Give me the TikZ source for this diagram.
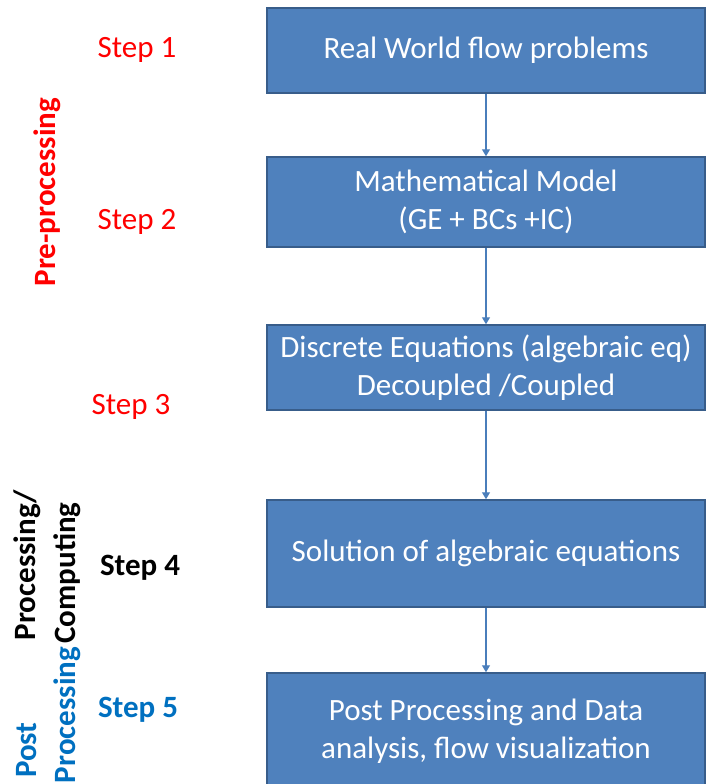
\documentclass[tikz,border=0pt]{standalone}
\usepackage{fontspec}
\setmainfont{Carlito}
\usetikzlibrary{arrows.meta,positioning}
\definecolor{boxblue}{RGB}{79,129,189}
\definecolor{boxedge}{RGB}{56,93,138}
\definecolor{arrowblue}{RGB}{74,126,187}
\definecolor{stepred}{RGB}{255,0,0}
\definecolor{stepblue}{RGB}{0,112,192}

\begin{document}
\begin{tikzpicture}[x=1pt,y=-1pt,
  every node/.style={font=\fontsize{31}{38}\selectfont},
  stepbox/.style={draw=boxedge,line width=1.5pt,fill=boxblue,text=white,align=center,minimum width=438pt},
  phase/.style={rotate=90,font=\fontsize{31}{38}\selectfont\bfseries,inner sep=0pt}]
  \clip (0,0) rectangle (707,784);

  \node[stepbox,minimum height=85pt] (b1) at (486,50.5) {Real World flow problems};
  \node[stepbox,minimum height=90pt,below=62.5pt of b1] (b2) {Mathematical Model\\(GE + BCs +IC)};
  \node[stepbox,minimum height=85pt,below=76.5pt of b2] (b3) {Discrete Equations (algebraic eq)\\Decoupled /Coupled};
  \node[stepbox,minimum height=107pt,below=88.5pt of b3] (b4) {Solution of algebraic equations};
  \node[stepbox,minimum height=116pt,below=64.5pt of b4] (b5) {Post Processing and Data\\analysis, flow visualization};

  \foreach \a/\b in {b1/b2,b2/b3,b3/b4,b4/b5}{
    \draw[-{Triangle[width=8pt,length=7pt]},arrowblue,line width=1.3pt] (\a) -- (\b);
  }

  % step numbers
  \node[text=stepred] (s1) at (137,50) {Step 1};
  \node[text=stepred] (s2) at (137,222) {Step 2};
  \node[text=stepred] (s3) at (131,407) {Step 3};
  \node[font=\fontsize{31}{38}\selectfont\bfseries] (s4) at (140,568) {Step 4};
  \node[text=stepblue,font=\fontsize{31}{38}\selectfont\bfseries] (s5) at (138,710) {Step 5};

  % phases
  \node[phase,text=stepred] (pre) at (47,192) {Pre-processing};
  \node[phase] (proc) at (27,565) {Processing/};
  \node[phase] (comp) at (67,573) {Computing};
  \node[phase,text=stepblue] (post) at (27,750) {Post};
  \node[phase,text=stepblue] (postproc) at (67,715) {Processing};
\end{tikzpicture}
\end{document}
